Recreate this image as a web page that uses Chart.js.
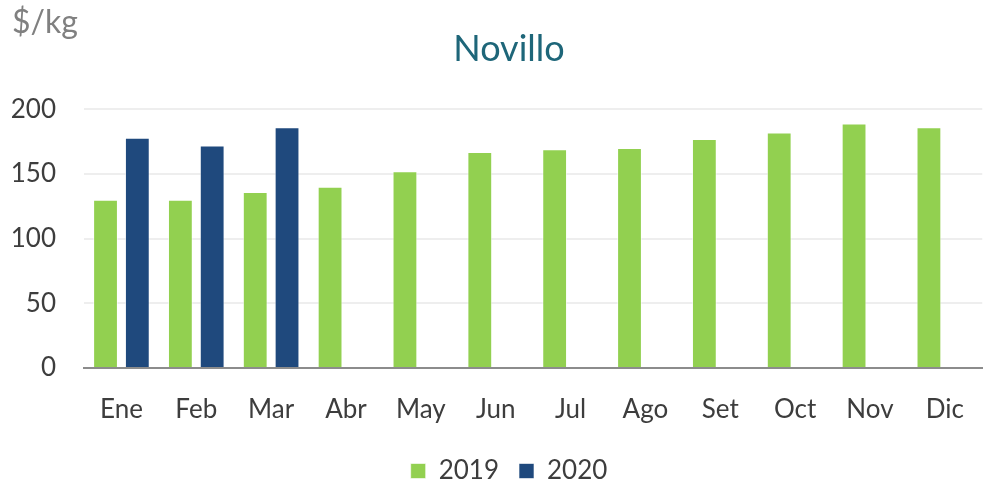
<!DOCTYPE html>
<html>
<head>
<meta charset="utf-8">
<script src="https://cdn.jsdelivr.net/npm/chart.js@4.4.1/dist/chart.umd.min.js"></script>
<style>
    html, body { margin: 0; padding: 0; background: #fff; }
    #wrap { width: 984px; height: 484px; overflow: hidden; position: relative; }
    #box { width: 990px; height: 494px; }
</style>
</head>
<body>
<div id="wrap"><div id="box"><canvas id="novilloChart"></canvas></div></div>
<script>
// Datos del gráfico
const meses = ['Ene', 'Feb', 'Mar', 'Abr', 'May', 'Jun', 'Jul', 'Ago', 'Set', 'Oct', 'Nov', 'Dic'];
const valores2019 = [130, 130, 136, 140, 152, 167, 169, 170, 177, 182, 189, 186];
const valores2020 = [178, 172, 186, null, null, null, null, null, null, null, null, null];
const ticksY = [0, 50, 100, 150, 200];

const fuente = 'Lato, "Open Sans", sans-serif';

// Etiqueta de unidad arriba a la izquierda
const unidadPlugin = {
    id: 'unidad',
    afterLayout(chart) {
        // centrar título y leyenda sobre el área del gráfico
        if (chart.titleBlock) chart.titleBlock.left += 30;
        if (chart.legend) chart.legend.left += 30;
    },
    afterDraw(chart) {
        const ctx = chart.ctx;
        ctx.save();
        ctx.font = '32px ' + fuente;
        ctx.fillStyle = '#808080';
        ctx.textBaseline = 'alphabetic';
        ctx.textAlign = 'left';
        ctx.fillText('$/kg', 12, 33);
        ctx.restore();
    }
};

const ctx = document.getElementById('novilloChart').getContext('2d');
new Chart(ctx, {
    type: 'bar',
    data: {
        labels: meses,
        datasets: [{
            label: '2019',
            data: valores2019,
            backgroundColor: '#92D050',
            borderColor: 'rgba(255,255,255,0.6)',
            borderWidth: 1,
            categoryPercentage: 0.85,
            barPercentage: 0.78
        }, {
            label: '2020',
            data: valores2020,
            backgroundColor: '#1F497D',
            borderColor: 'rgba(255,255,255,0.6)',
            borderWidth: 1,
            categoryPercentage: 0.85,
            barPercentage: 0.78
        }]
    },
    options: {
        responsive: true,
        maintainAspectRatio: false,
        animation: false,
        layout: {
            padding: { top: 0, left: 0, right: 2, bottom: 0 }
        },
        scales: {
            x: {
                grid: { display: false, drawTicks: false },
                border: { display: true, color: '#8C8C8C', width: 2 },
                ticks: {
                    color: '#3D3D3D',
                    font: { family: fuente, size: 26 },
                    padding: 26
                },
                afterFit: function (scale) {
                    scale.height = 70;
                }
            },
            y: {
                min: 0,
                max: 200,
                afterBuildTicks: function (scale) {
                    scale.ticks = ticksY.map(v => ({ value: v }));
                },
                grid: { color: '#EEEEEE', lineWidth: 2, drawTicks: false },
                border: { display: false },
                ticks: {
                    color: '#3D3D3D',
                    font: { family: fuente, size: 26 },
                    padding: 28
                },
                afterFit: function (scale) {
                    scale.width = 84;
                }
            }
        },
        plugins: {
            title: {
                display: true,
                text: 'Novillo',
                color: '#1E6679',
                font: { family: fuente, size: 36, weight: 'normal' },
                padding: { top: 28, bottom: 38 }
            },
            legend: {
                position: 'bottom',
                labels: {
                    color: '#3D3D3D',
                    font: { family: fuente, size: 26 },
                    boxWidth: 15,
                    boxHeight: 15,
                    padding: 20
                }
            },
            tooltip: { enabled: false }
        }
    },
    plugins: [unidadPlugin]
});
</script>
</body>
</html>
